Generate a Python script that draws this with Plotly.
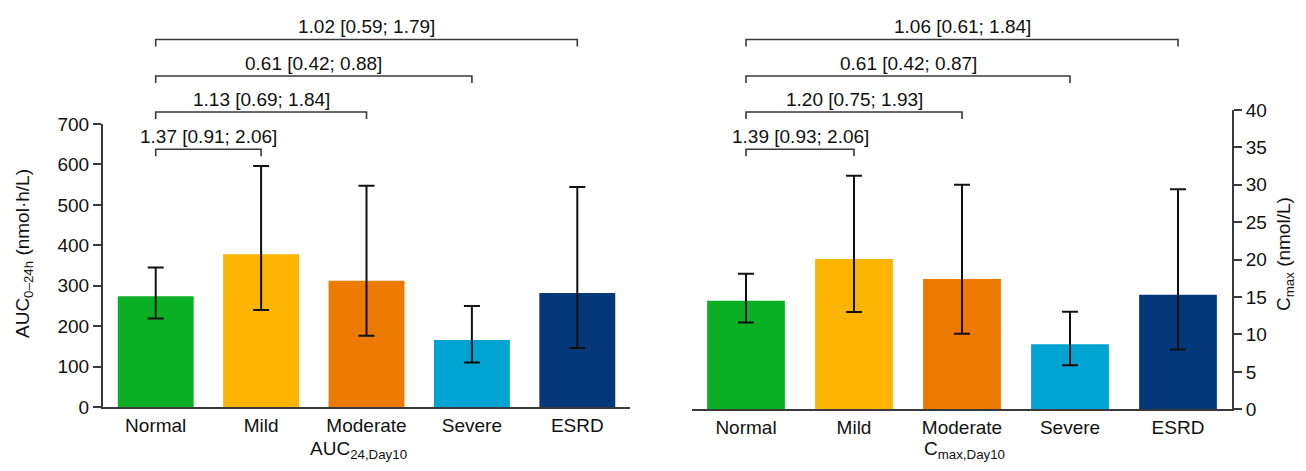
import plotly.graph_objects as go

# page body has an 8px default margin; size the figure to fit the window
OFF = 8
W, H = 1306 - 2 * OFF, 471 - 2 * OFF

categories = ["Normal", "Mild", "Moderate", "Severe", "ESRD"]
bar_colors = ["#0BAF23", "#FBB400", "#EC7A00", "#00A3D1", "#05387B"]

auc_mean = [274, 378, 312, 166, 282]
auc_upper = [345, 596, 547, 250, 544]
auc_lower = [219, 240, 176, 110, 146]

cmax_mean = [14.5, 20.1, 17.4, 8.7, 15.3]
cmax_upper = [18.1, 31.2, 30.0, 13.05, 29.4]
cmax_lower = [11.6, 13.0, 10.1, 5.9, 8.0]

auc_ratio_labels = ["1.37 [0.91; 2.06]", "1.13 [0.69; 1.84]", "0.61 [0.42; 0.88]", "1.02 [0.59; 1.79]"]
cmax_ratio_labels = ["1.39 [0.93; 2.06]", "1.20 [0.75; 1.93]", "0.61 [0.42; 0.87]", "1.06 [0.61; 1.84]"]
compare_to = [1, 2, 3, 4]

auc_ticks = [0, 100, 200, 300, 400, 500, 600, 700]
cmax_ticks = [0, 5, 10, 15, 20, 25, 30, 35, 40]

FONT = "Liberation Sans, Arial, sans-serif"
FS = 19
AX = "#3a3a3a"


def px_x(p):
    return (p - OFF) / W


def px_y(p):
    return 1 - (p - OFF) / H


fig = go.Figure()

fig.add_trace(go.Bar(
    x=categories, y=auc_mean, marker=dict(color=bar_colors, line=dict(width=0)),
    error_y=dict(type="data", symmetric=False,
                 array=[u - m for u, m in zip(auc_upper, auc_mean)],
                 arrayminus=[m - l for m, l in zip(auc_mean, auc_lower)],
                 color="#111111", thickness=2, width=8),
    xaxis="x", yaxis="y", showlegend=False))

fig.add_trace(go.Bar(
    x=categories, y=cmax_mean, marker=dict(color=bar_colors, line=dict(width=0)),
    error_y=dict(type="data", symmetric=False,
                 array=[u - m for u, m in zip(cmax_upper, cmax_mean)],
                 arrayminus=[m - l for m, l in zip(cmax_mean, cmax_lower)],
                 color="#111111", thickness=2, width=8),
    xaxis="x2", yaxis="y2", showlegend=False))

common_x = dict(type="category", range=[-0.5, 4.5], showline=True, linecolor=AX, linewidth=2,
                ticks="", showgrid=False, zeroline=False,
                tickfont=dict(family=FONT, size=FS, color="#111111"), automargin=False)
common_y = dict(showline=True, linecolor=AX, linewidth=2, ticks="outside", ticklen=8,
                tickwidth=2, tickcolor=AX, showgrid=False, zeroline=False,
                tickfont=dict(family=FONT, size=FS, color="#111111"), automargin=False)

fig.update_layout(
    width=W, height=H,
    margin=dict(l=0, r=0, t=0, b=0),
    paper_bgcolor="white", plot_bgcolor="white",
    bargap=0.28,
    font=dict(family=FONT, size=FS, color="#111111"),
    xaxis=dict(domain=[px_x(103), px_x(630)], anchor="y", **common_x),
    yaxis=dict(domain=[px_y(407), px_y(124)], anchor="x", range=[0, 700],
               tickvals=auc_ticks, side="left", **common_y),
    xaxis2=dict(domain=[px_x(692), px_x(1232)], anchor="y2", **common_x),
    yaxis2=dict(domain=[px_y(409.3), px_y(110)], anchor="x2", range=[0, 40],
                tickvals=cmax_ticks, side="right", **common_y),
)

# comparison brackets (Normal vs each group)
levels_line = [149.3, 112, 76, 39.5]
tick_drop = 7
for xref, labels in (("x", auc_ratio_labels), ("x2", cmax_ratio_labels)):
    for k, (j, lab) in enumerate(zip(compare_to, labels)):
        yl = px_y(levels_line[k])
        yb = px_y(levels_line[k] + tick_drop)
        fig.add_shape(type="path", xref=xref, yref="paper",
                      path=f"M 0,{yb} L 0,{yl} L {j},{yl} L {j},{yb}",
                      line=dict(color=AX, width=1.6))
        fig.add_annotation(x=j / 2, y=px_y(levels_line[k] - 1), xref=xref, yref="paper",
                           text=lab, showarrow=False, yanchor="bottom", xanchor="center",
                           font=dict(family=FONT, size=FS, color="#111111"), borderpad=0)

# axis titles
fig.add_annotation(x=px_x(24), y=px_y(254), xref="paper", yref="paper",
                   text="AUC<sub>0–24h</sub> (nmol·h/L)", textangle=-90, showarrow=False,
                   xanchor="center", yanchor="middle", font=dict(family=FONT, size=FS))
fig.add_annotation(x=1.0, y=px_y(254), xref="paper", yref="paper",
                   text="C<sub>max</sub> (nmol/L)", textangle=-90, showarrow=False,
                   xanchor="right", yanchor="middle", borderpad=0,
                   font=dict(family=FONT, size=FS))
fig.add_annotation(x=px_x(358), y=0, xref="paper", yref="paper",
                   text="AUC<sub>24,Day10</sub>", showarrow=False,
                   xanchor="center", yanchor="bottom", borderpad=0, font=dict(family=FONT, size=FS))
fig.add_annotation(x=px_x(964), y=0, xref="paper", yref="paper",
                   text="C<sub>max,Day10</sub>", showarrow=False,
                   xanchor="center", yanchor="bottom", borderpad=0, font=dict(family=FONT, size=FS))

fig.write_html("out.html")
